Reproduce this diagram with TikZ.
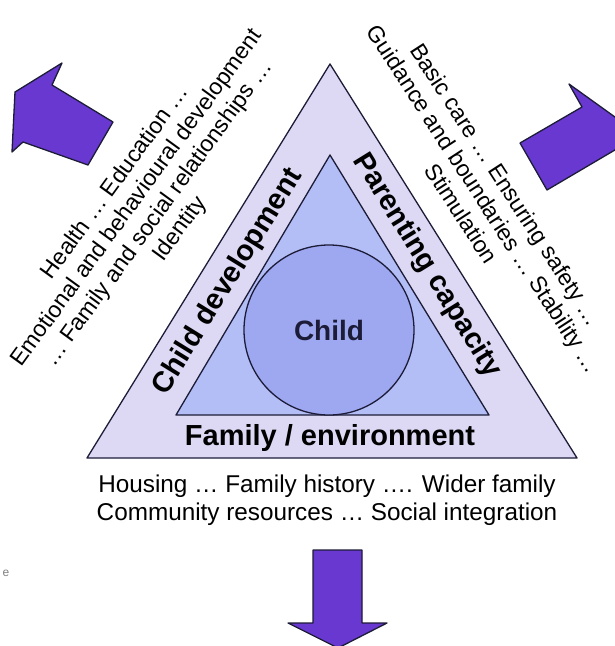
\documentclass[tikz,border=0pt]{standalone}
\usepackage{fontspec}
\setmainfont{Liberation Sans}
\usepackage{tikz}

\definecolor{outerfill}{RGB}{221,216,243}
\definecolor{innerfill}{RGB}{178,190,245}
\definecolor{childfill}{RGB}{158,168,241}
\definecolor{arrowfill}{RGB}{104,56,208}
\definecolor{edgecol}{RGB}{28,28,56}

\begin{document}
\begin{tikzpicture}[x=1pt, y=-1pt,
        outline/.style = {draw=edgecol, line width=1.3pt, line join=round},
        bigarrow/.style = {draw=edgecol, fill=arrowfill, line width=1.3pt, line join=round},
        bandtext/.style = {font=\fontsize{29}{33}\selectfont\bfseries},
        notes/.style = {font=\fontsize{23}{26.5}\selectfont, align=center}]
        \useasboundingbox (0,0) rectangle (615,646);
        % triangles
        \coordinate (top) at (330,64);
        \coordinate (bl) at (87,458);
        \coordinate (br) at (577,458);
        \coordinate (itop) at (330,155);
        \coordinate (ibl) at (176,415);
        \coordinate (ibr) at (489,415);
        \draw[outline, fill=outerfill] (top) -- (bl) -- (br) -- cycle;
        \draw[outline, fill=innerfill] (itop) -- (ibl) -- (ibr) -- cycle;
        \node[outline, circle, fill=childfill, minimum size=170pt, inner sep=0pt,
              font=\fontsize{28}{32}\selectfont\bfseries, text=edgecol] (child) at (329,330) {Child};
        % band labels
        \node[bandtext, rotate=58.3] (dev) at (228,282) {Child development};
        \node[bandtext, rotate=-58.3] (par) at (427,266) {Parenting capacity};
        \node[bandtext] (fam) at (330,438) {Family / environment};
        % outside notes
        \node[notes, rotate=54] (devnotes) at (148,206) {Health … Education …\\Emotional and behavioural development\\… Family and social relationships …\\Identity};
        \node[notes, rotate=-57] (parnotes) at (484,199) {Basic care … Ensuring safety …\\Guidance and boundaries … Stability …\\Stimulation};
        \node[font=\fontsize{24.3}{28}\selectfont, align=center] (famnotes) at (327,500) {Housing … Family history …. Wider family\\Community resources … Social integration};
        \node[font=\fontsize{12}{14}\selectfont, text=gray] (cut) at (6,573) {e};
        % arrows
        \draw[bigarrow] (62,63) -- (15,92) -- (12,152) -- (23,142) -- (88,165) -- (113,122) -- (52,85) -- cycle;
        \draw[bigarrow] (569,84) -- (640,135) -- (632,165) -- (620,147) -- (547,190) -- (520,143) -- (582,107) -- cycle;
        \draw[bigarrow] (313,550) -- (362,550) -- (362,623) -- (387,623) -- (338,648) -- (288,623) -- (313,623) -- cycle;
\end{tikzpicture}
\end{document}
